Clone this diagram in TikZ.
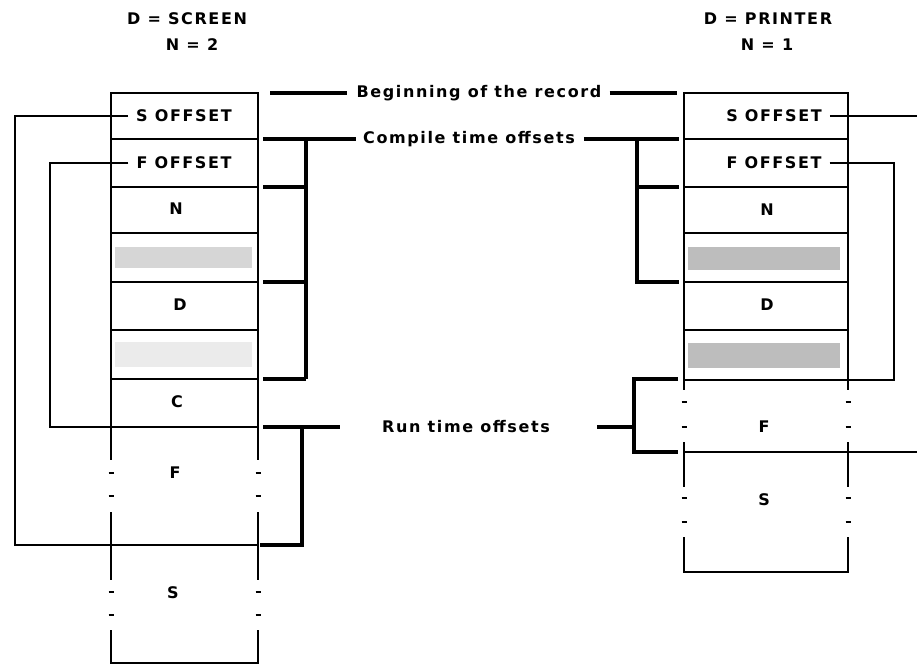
\documentclass[tikz,border=0pt]{standalone}
\usepackage{fontspec}
\setmainfont{DejaVu Sans}[LetterSpace=10]
\begin{document}
\begin{tikzpicture}[x=1pt,y=-1pt,
  lbl/.style={font=\fontsize{16}{18}\selectfont\bfseries, inner sep=0pt},
  col/.style={line width=2.5pt},
  ptr/.style={line width=2pt},
  brk/.style={line width=3.8pt},
  dotm/.style={line width=2.8pt},
  shadeA/.style={fill=gray!32, draw=none},
  shadeB/.style={fill=gray!16, draw=none},
  shadeC/.style={fill=gray!52, draw=none}]
\useasboundingbox (0,0) rectangle (917,664);

% ---------- headers
\node[lbl] (hL1) at (187,19) {D = SCREEN};
\node[lbl] (hL2) at (192,45) {N = 2};
\node[lbl] (hR1) at (768,19) {D = PRINTER};
\node[lbl] (hR2) at (767,45) {N = 1};

% ---------- left column
\fill[shadeA] (115,247) rectangle (252,268);
\fill[shadeB] (115,342) rectangle (252,367);
\foreach \yy in {93,139,187,233,282,330,379} \draw[col] (111,\yy) -- (258,\yy);
\draw[col] (111,663) -- (258,663);
\foreach \xx in {111,258} {
  \draw[col] (\xx,92) -- (\xx,460);
  \draw[col] (\xx,512) -- (\xx,580);
  \draw[col] (\xx,630) -- (\xx,664);
  \foreach \yy in {473,496,592,615} \draw[dotm] (\xx-2.5,\yy) -- (\xx+2.5,\yy);
}
\node[lbl] (lS) at (184,116) {S OFFSET};
\node[lbl] (lF) at (184,163) {F OFFSET};
\node[lbl] (lN) at (176,209) {N};
\node[lbl] (lD) at (180,305) {D};
\node[lbl] (lC) at (177,402) {C};
\node[lbl] (lFF) at (175,473) {F};
\node[lbl] (lSS) at (173,593) {S};

% ---------- right column
\fill[shadeC] (688,247) rectangle (840,270);
\fill[shadeC] (688,343) rectangle (840,368);
\foreach \yy in {93,139,187,233,282,330,380} \draw[col] (684,\yy) -- (848,\yy);
\draw[col] (684,572) -- (848,572);
\foreach \xx in {684,848} {
  \draw[col] (\xx,92) -- (\xx,390);
  \draw[col] (\xx,442) -- (\xx,487);
  \draw[col] (\xx,537) -- (\xx,573);
  \foreach \yy in {402,427,498,522} \draw[dotm] (\xx-2.5,\yy) -- (\xx+2.5,\yy);
}
\node[lbl] (rS) at (774,116) {S OFFSET};
\node[lbl] (rF) at (774,163) {F OFFSET};
\node[lbl] (rN) at (767,210) {N};
\node[lbl] (rD) at (767,305) {D};
\node[lbl] (rFF) at (764,427) {F};
\node[lbl] (rSS) at (764,500) {S};

% ---------- coordinates
\coordinate (lCF) at (258,427);
\coordinate (lFS) at (258,545);
\coordinate (rFstart) at (848,380);
\coordinate (rFS) at (684,452);
\coordinate (offR1) at (917,116);
\coordinate (offR2) at (917,452);

% ---------- pointers
\draw[ptr] ([xshift=-8pt]lS.west) -- (15,116) |- (lFS);
\draw[ptr] ([xshift=-8pt]lF.west) -- (50,163) |- (lCF);
\draw[ptr] ([xshift=8pt]rS.east) -- (offR1);
\draw[ptr] ([xshift=8pt]rF.east) -- (894,163) |- (rFstart);
\draw[ptr] (rFS) -- (offR2);

% ---------- Beginning of the record
\node[lbl] (beg) at (479,93) {Beginning of the record};
\draw[brk] (270,93) -- ([xshift=-10pt]beg.west);
\draw[brk] ([xshift=8pt]beg.east) -- (677,93);

% ---------- Compile time offsets
\node[lbl] (cto) at (469,139) {Compile time offsets};
\draw[brk] (263,139) -- ([xshift=-7pt]cto.west);
\draw[brk] (306,139) -- (306,379);
\foreach \yy in {187,282,379} \draw[brk] (263,\yy) -- (306,\yy);
\draw[brk] ([xshift=9pt]cto.east) -- (679,139);
\draw[brk] (637,139) -- (637,282) -- (679,282);
\draw[brk] (637,187) -- (679,187);

% ---------- Run time offsets
\node[lbl] (rto) at (466,427) {Run time offsets};
\coordinate (rtoR) at (597,427);
\draw[brk] (263,427) -- (340,427);
\draw[brk] (302,427) -- (302,545) -- (260,545);
\draw[brk] (rtoR) -- (634,427);
\draw[brk] (678,379) -- (634,379) -- (634,452) -- (678,452);
\end{tikzpicture}
\end{document}
